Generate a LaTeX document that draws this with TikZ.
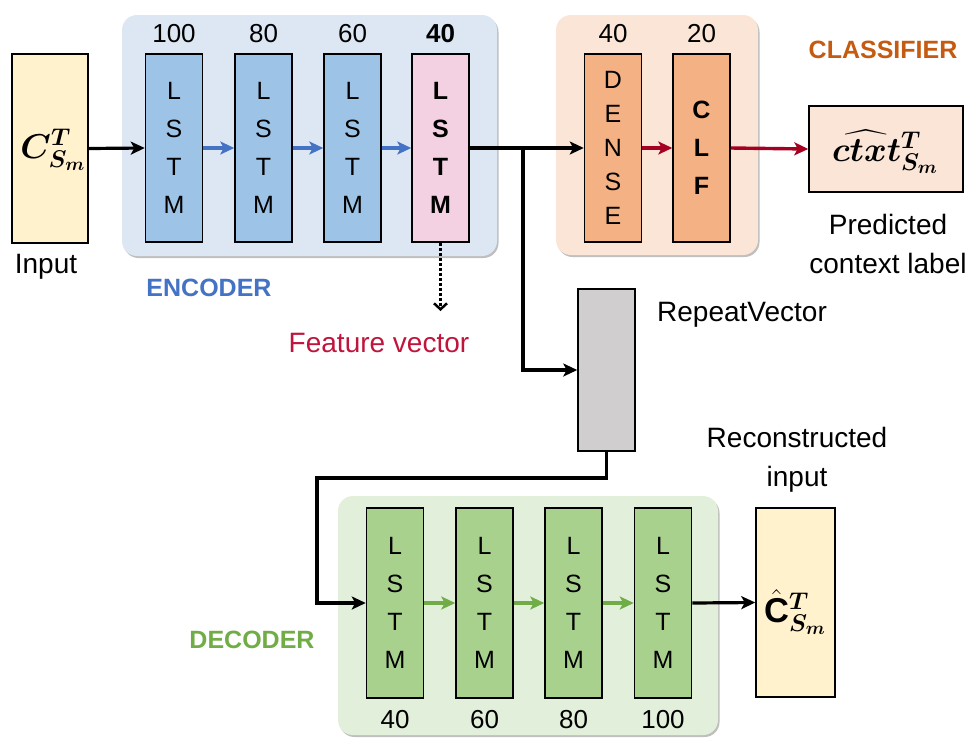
\RequirePackage{fix-cm}
\documentclass[tikz,border=0pt]{standalone}
\usepackage{amsmath}
\usepackage{bm}
\usepackage{graphicx}
\usepackage{fontspec}
\setmainfont{Liberation Sans}
\usetikzlibrary{arrows.meta,shadows}
% larger script sizes for the formula labels
\DeclareMathSizes{30}{30}{21}{16}
\newcommand{\bigformula}[1]{\scalebox{1.15}{$#1$}}

\definecolor{encbg}{HTML}{DDE7F3}
\definecolor{encbox}{HTML}{9DC3E6}
\definecolor{featbox}{HTML}{F3D1E2}
\definecolor{clsbg}{HTML}{FBE5D6}
\definecolor{clsbox}{HTML}{F4B183}
\definecolor{decbg}{HTML}{E2EFDA}
\definecolor{decbox}{HTML}{A9D18E}
\definecolor{datafill}{HTML}{FFF2CC}
\definecolor{rvfill}{HTML}{D0CECE}
\definecolor{encblue}{HTML}{4472C4}
\definecolor{clsred}{HTML}{A50021}
\definecolor{clsorange}{HTML}{C55A11}
\definecolor{decgreen}{HTML}{70AD47}
\definecolor{featred}{HTML}{C0143C}

\begin{document}
\begin{tikzpicture}[x=1pt,y=-1pt,
  panel/.style={rounded corners=15pt,
    drop shadow={shadow xshift=1.5pt,shadow yshift=-2pt,opacity=0.25,fill=black}},
  layer/.style={draw=black,line width=1.5pt,minimum width=57pt,minimum height=188pt,
    inner sep=0pt,align=center,font=\fontsize{25}{38}\selectfont},
  boxed/.style={draw=black,line width=1.5pt,inner sep=0pt},
  formula/.style={font=\fontsize{30}{32}\selectfont,inner sep=0pt},
  size/.style={font=\fontsize{26}{30}\selectfont,anchor=center},
  caption/.style={font=\fontsize{28}{39}\selectfont,align=center},
  title/.style={font=\fontsize{25}{30}\selectfont\bfseries},
  tip/.style={-{Stealth[length=14pt,width=13pt,inset=3.5pt]}},
  blk/.style={tip,draw=black,line width=3.2pt},
  bluearrow/.style={tip,draw=encblue,line width=3.4pt},
  redarrow/.style={tip,draw=clsred,line width=3.4pt},
  greenarrow/.style={tip,draw=decgreen,line width=3.4pt},
]
\useasboundingbox (0,0) rectangle (973,737);

% group panels
\fill[encbg,panel] (122,15) rectangle (497,256);
\fill[clsbg,panel] (556,15) rectangle (758,255);
\fill[decbg,panel] (338,496) rectangle (718,735);

% input sequence
\node[boxed,fill=datafill,minimum width=76pt,minimum height=189pt] (in) at (50,148.5) {};
\node[formula] (inf) at (53,150) {\bigformula{\bm{C}^{\bm{T}}_{\bm{S_m}}}};
\node[caption] (inlab) at (46,267) {Input};

% encoder stack
\node[layer,fill=encbox] (e1) at (174,148) {L\\S\\T\\M};
\node[layer,fill=encbox] (e2) at (263.5,148) {L\\S\\T\\M};
\node[layer,fill=encbox] (e3) at (352.5,148) {L\\S\\T\\M};
\node[layer,fill=featbox,font=\fontsize{25}{38}\selectfont\bfseries] (e4) at (440.5,148) {L\\S\\T\\M};
\node[size] (n1) at (174,34) {100};
\node[size] (n2) at (263.5,34) {80};
\node[size] (n3) at (352.5,34) {60};
\node[size,font=\fontsize{26}{30}\selectfont\bfseries] (n4) at (440.5,34) {40};
\node[title,text=encblue] (enc) at (209,288) {ENCODER};

% feature vector tap
\coordinate (fv) at (440.5,311);
\draw[line width=3pt,dotted,-{Straight Barb[length=6pt,width=13pt,line width=2.5pt]}] (e4.south) -- (fv);
\node[caption,text=featred] (fvlab) at (379,343) {Feature vector};

% classifier
\node[layer,fill=clsbox,font=\fontsize{25}{34}\selectfont] (dense) at (613,148) {D\\E\\N\\S\\E};
\node[layer,fill=clsbox,font=\fontsize{25}{38}\selectfont\bfseries] (clf) at (701.5,148) {C\\L\\F};
\node[size] (n5) at (613,34) {40};
\node[size] (n6) at (701.5,34) {20};
\node[title,text=clsorange] (cls) at (883,50) {CLASSIFIER};
\node[boxed,fill=clsbg,minimum width=154pt,minimum height=86pt] (out) at (886,149) {};
\node[formula] (outf) at (885,152) {\bigformula{\widehat{\bm{ctxt}}{}^{\bm{T}}_{\bm{S_m}}}};
\node[caption] (outlab) at (888,244) {Predicted\\context label};

% repeat vector
\node[boxed,fill=rvfill,minimum width=57pt,minimum height=162pt] (rv) at (606.5,370) {};
\node[caption] (rvlab) at (742,315) {RepeatVector};

% decoder stack
\node[layer,fill=decbox,minimum height=190pt] (d1) at (395,603) {L\\S\\T\\M};
\node[layer,fill=decbox,minimum height=190pt] (d2) at (484.5,603) {L\\S\\T\\M};
\node[layer,fill=decbox,minimum height=190pt] (d3) at (573.5,603) {L\\S\\T\\M};
\node[layer,fill=decbox,minimum height=190pt] (d4) at (663,603) {L\\S\\T\\M};
\node[size] (m1) at (395,720) {40};
\node[size] (m2) at (484.5,720) {60};
\node[size] (m3) at (573.5,720) {80};
\node[size] (m4) at (663,720) {100};
\node[title,text=decgreen] (dec) at (252,640) {DECODER};

% reconstructed input
\node[boxed,fill=datafill,minimum width=79pt,minimum height=189pt] (rec) at (795.5,602.5) {};
\node[formula] (recf) at (795,612) {\bigformula{\hat{\mathbf{C}}{}^{\bm{T}}_{\bm{S_m}}}};
\node[caption] (reclab) at (797,460) {Reconstructed\\input};

% connectors
\coordinate (split) at (523,148);
\coordinate (bend) at (317,478);
\draw[blk] (in.east) -- (e1.west);
\draw[bluearrow] (e1.east) -- (e2.west);
\draw[bluearrow] (e2.east) -- (e3.west);
\draw[bluearrow] (e3.east) -- (e4.west);
\draw[blk] (e4.east) -- (dense.west);
\draw[blk] (split) |- (rv.west);
\draw[redarrow] (dense.east) -- (clf.west);
\draw[redarrow] (clf.east) -- (out.west);
\draw[blk] (rv.south) |- (bend) |- (d1.west);
\draw[greenarrow] (d1.east) -- (d2.west);
\draw[greenarrow] (d2.east) -- (d3.west);
\draw[greenarrow] (d3.east) -- (d4.west);
\draw[blk] (d4.east) -- (rec.west);
\end{tikzpicture}
\end{document}
